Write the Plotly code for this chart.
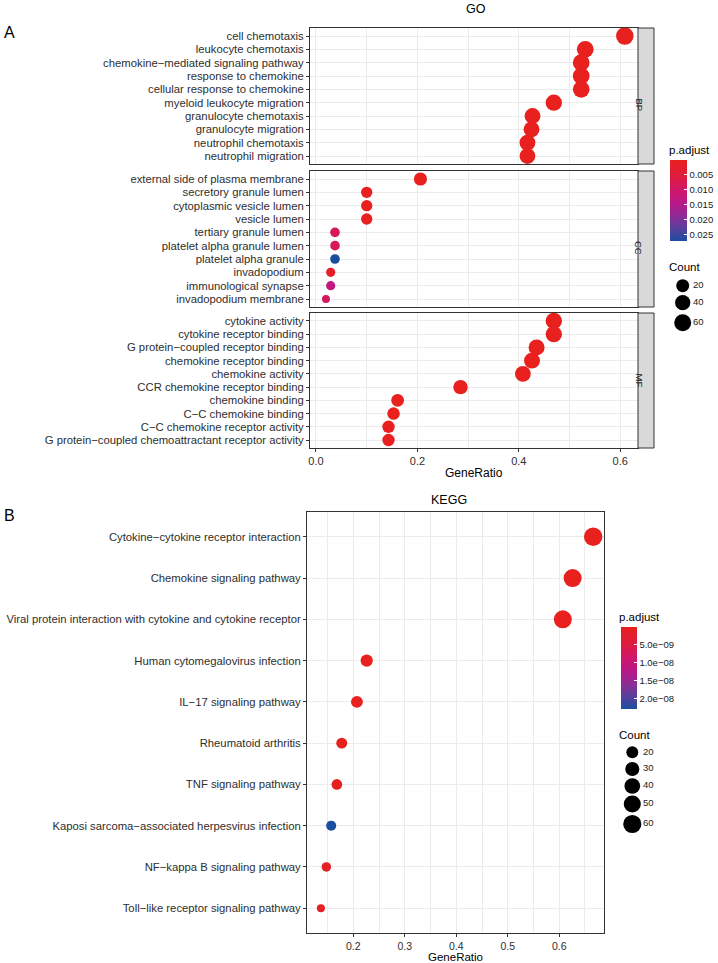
import numpy as np
import plotly.graph_objects as go

M = "\u2212"  # minus sign, as rendered by ggplot

# ---------------- GO data ----------------
bp_terms = ["cell chemotaxis", "leukocyte chemotaxis", f"chemokine{M}mediated signaling pathway",
            "response to chemokine", "cellular response to chemokine", "myeloid leukocyte migration",
            "granulocyte chemotaxis", "granulocyte migration", "neutrophil chemotaxis", "neutrophil migration"]
bp_ratio = [0.609, 0.531, 0.523, 0.523, 0.523, 0.469, 0.427, 0.425, 0.417, 0.417]
bp_count = [67, 58, 57, 57, 57, 52, 47, 47, 46, 46]
bp_padj = [1e-30, 1e-26, 1e-26, 1e-26, 1e-26, 1e-22, 1e-20, 1e-19, 1e-19, 1e-19]

cc_terms = ["external side of plasma membrane", "secretory granule lumen", "cytoplasmic vesicle lumen",
            "vesicle lumen", "tertiary granule lumen", "platelet alpha granule lumen",
            "platelet alpha granule", "invadopodium", "immunological synapse", "invadopodium membrane"]
cc_ratio = [0.206, 0.100, 0.100, 0.100, 0.0375, 0.0375, 0.0375, 0.029, 0.029, 0.0197]
cc_count = [21, 10, 10, 10, 4, 4, 4, 3, 3, 2]
cc_padj = [1e-8, 2e-4, 2e-4, 2e-4, 0.0080, 0.0080, 0.0271, 0.0021, 0.0130, 0.0088]

mf_terms = ["cytokine activity", "cytokine receptor binding", f"G protein{M}coupled receptor binding",
            "chemokine receptor binding", "chemokine activity", "CCR chemokine receptor binding",
            "chemokine binding", f"C{M}C chemokine binding", f"C{M}C chemokine receptor activity",
            f"G protein{M}coupled chemoattractant receptor activity"]
mf_ratio = [0.469, 0.469, 0.435, 0.426, 0.408, 0.285, 0.161, 0.153, 0.143, 0.143]
mf_count = [52, 52, 48, 47, 45, 32, 18, 17, 16, 16]
mf_padj = [1e-25, 1e-25, 1e-24, 1e-24, 1e-23, 1e-18, 1e-12, 1e-12, 1e-11, 1e-11]

go_facets = ["BP", "CC", "MF"]
go_cbar_ticks = [0.005, 0.010, 0.015, 0.020, 0.025]
go_cbar_labels = ["0.005", "0.010", "0.015", "0.020", "0.025"]
go_size_breaks = [20, 40, 60]

# ---------------- KEGG data ----------------
kegg_terms = [f"Cytokine{M}cytokine receptor interaction", "Chemokine signaling pathway",
              "Viral protein interaction with cytokine and cytokine receptor",
              "Human cytomegalovirus infection", f"IL{M}17 signaling pathway", "Rheumatoid arthritis",
              "TNF signaling pathway", f"Kaposi sarcoma{M}associated herpesvirus infection",
              f"NF{M}kappa B signaling pathway", f"Toll{M}like receptor signaling pathway"]
kegg_ratio = [0.666, 0.626, 0.607, 0.226, 0.207, 0.1775, 0.168, 0.157, 0.1476, 0.137]
kegg_count = [63, 59, 58, 21, 20, 17, 16, 15, 14, 13]
kegg_padj = [1e-40, 1e-33, 1e-35, 1e-12, 1e-11, 1e-10, 1e-10, 2.27e-8, 1e-9, 1e-9]

kegg_cbar_ticks = [5e-9, 1e-8, 1.5e-8, 2e-8]
kegg_cbar_labels = [f"5.0e{M}09", f"1.0e{M}08", f"1.5e{M}08", f"2.0e{M}08"]
kegg_size_breaks = [20, 30, 40, 50, 60]

# ---------------- styling ----------------
W, H = 718, 963
FONT = "Liberation Sans, Arial, sans-serif"
GRID = "#EBEBEB"
BORDER = "#333333"
TXT = "#2E2E2E"
TICK_FS = 11.3

# p.adjust gradient (low -> high), sampled from the reference colour bar
grad_low_to_high = [(0.00, "#E8201E"), (0.20, "#E01C3E"), (0.40, "#CD1670"), (0.55, "#B51A8A"),
                    (0.70, "#8C2C95"), (0.85, "#56409C"), (1.00, "#1C4EA0")]
# colour is driven by -p.adjust so that the smallest p.adjust sits at the top of the bar (as in ggplot)
cscale = sorted([[1 - t, c] for t, c in grad_low_to_high])


def xdom(a, b):
    return [a / W, b / W]


def ydom(top, bottom):
    return [1 - bottom / H, 1 - top / H]


def neg(v):
    return [-x for x in v]


def size_scale(counts, cmin, cmax, dmin, dmax):
    c = np.asarray(counts, dtype=float)
    return list(dmin + (dmax - dmin) * np.sqrt((c - cmin) / (cmax - cmin)))


go_all_count = bp_count + cc_count + mf_count
go_cmin, go_cmax = min(go_all_count), max(go_all_count)
go_size = lambda c: size_scale(c, go_cmin, go_cmax, 8.0, 17.5)
k_cmin, k_cmax = min(kegg_count), max(kegg_count)
k_size = lambda c: size_scale(c, k_cmin, k_cmax, 8.0, 18.5)

go_all_padj = bp_padj + cc_padj + mf_padj

fig = go.Figure()

# GO panels
go_sets = [(bp_terms, bp_ratio, bp_count, bp_padj), (cc_terms, cc_ratio, cc_count, cc_padj),
           (mf_terms, mf_ratio, mf_count, mf_padj)]
for i, (terms, ratio, count, padj) in enumerate(go_sets):
    sfx = "" if i == 0 else str(i + 1)
    fig.add_trace(go.Scatter(
        x=ratio, y=terms, mode="markers", xaxis="x" + sfx, yaxis="y" + sfx, showlegend=False,
        marker=dict(size=go_size(count), color=neg(padj), coloraxis="coloraxis", line=dict(width=0),
                    opacity=1),
    ))

# KEGG panel
fig.add_trace(go.Scatter(
    x=kegg_ratio, y=kegg_terms, mode="markers", xaxis="x4", yaxis="y4", showlegend=False,
    marker=dict(size=k_size(kegg_count), color=neg(kegg_padj), coloraxis="coloraxis2", line=dict(width=0),
                opacity=1),
))

# size legends drawn on small pixel-canvas axes (x5/y5 for GO, x6/y6 for KEGG)
go_canvas = (660, 718, 274, 336)    # x0, x1, y0, y1 in page pixels
k_canvas = (610, 718, 742, 836)
go_key_x, go_key_y, go_lab_x = 682.7, [285.7, 302.7, 322.7], 693
k_key_x, k_key_y, k_lab_x = 632.3, [752.3, 769.0, 786.0, 804.0, 824.0], 643
for (kx, ky, lx, breaks, sizef, ax) in [(go_key_x, go_key_y, go_lab_x, go_size_breaks, go_size, "5"),
                                         (k_key_x, k_key_y, k_lab_x, kegg_size_breaks, k_size, "6")]:
    fig.add_trace(go.Scatter(x=[kx] * len(breaks), y=ky, mode="markers", xaxis="x" + ax, yaxis="y" + ax,
                             showlegend=False, cliponaxis=False,
                             marker=dict(size=sizef(breaks), color="#000000", line=dict(width=0), opacity=1)))
    fig.add_trace(go.Scatter(x=[lx] * len(breaks), y=ky, mode="text", text=[str(v) for v in breaks],
                             textposition="middle right", cliponaxis=False,
                             textfont=dict(size=9.5, color="#1A1A1A", family=FONT),
                             xaxis="x" + ax, yaxis="y" + ax, showlegend=False))

# ---------------- axes ----------------
go_x = xdom(310, 638)
go_xrange = [-0.0118, 0.635]
go_panels_px = [(28, 164), (171, 307), (313, 448)]


def xaxis_common(domain, rng, anchor, show_labels, dtick, minor_dtick, fs=11):
    return dict(domain=domain, range=rng, anchor=anchor, showgrid=True, gridcolor=GRID, gridwidth=1.1,
                minor=dict(showgrid=True, gridcolor=GRID, gridwidth=0.7, dtick=minor_dtick),
                dtick=dtick, tick0=0, tickformat=".1f", zeroline=False, showline=True, linecolor=BORDER,
                linewidth=1, mirror=True, ticks="outside" if show_labels else "", ticklen=3,
                tickcolor=BORDER, showticklabels=show_labels,
                tickfont=dict(size=fs, color=TXT, family=FONT), fixedrange=True)


def yaxis_common(domain, terms, anchor):
    return dict(domain=domain, anchor=anchor, type="category", categoryorder="array",
                categoryarray=list(reversed(terms)), range=[-0.6, len(terms) - 0.4],
                tickmode="array", tickvals=list(terms), ticktext=list(terms),
                showgrid=True, gridcolor=GRID, gridwidth=1.1, zeroline=False, showline=True,
                linecolor=BORDER, linewidth=1, mirror=True, ticks="outside", ticklen=3, tickcolor=BORDER,
                tickfont=dict(size=TICK_FS, color=TXT, family=FONT), fixedrange=True)


layout = dict(
    width=W, height=H, margin=dict(l=0, r=0, t=0, b=0, autoexpand=False), paper_bgcolor="white",
    plot_bgcolor="rgba(0,0,0,0)", font=dict(family=FONT, color="black"), showlegend=False,
)
for i, (top, bot) in enumerate(go_panels_px):
    sfx = "" if i == 0 else str(i + 1)
    layout["xaxis" + sfx] = xaxis_common(go_x, go_xrange, "y" + sfx, i == 2, 0.2, 0.1)
    layout["yaxis" + sfx] = yaxis_common(ydom(top, bot), go_sets[i][0], "x" + sfx)

layout["xaxis4"] = xaxis_common(xdom(307, 604), [0.110, 0.687], "y4", True, 0.1, 0.05, fs=10.5)
layout["yaxis4"] = yaxis_common(ydom(512, 933), kegg_terms, "x4")
for ax, (x0, x1, y0, y1) in [("5", go_canvas), ("6", k_canvas)]:
    layout["xaxis" + ax] = dict(domain=xdom(x0, x1), range=[x0, x1], visible=False, anchor="y" + ax,
                                fixedrange=True)
    layout["yaxis" + ax] = dict(domain=ydom(y0, y1), range=[y1, y0], visible=False, anchor="x" + ax,
                                fixedrange=True)

cb_common = dict(xanchor="left", yanchor="top", lenmode="pixels", thicknessmode="pixels", outlinewidth=0,
                 xpad=0, ypad=0, ticks="inside", ticklen=3, tickcolor="white", tickwidth=1,
                 tickfont=dict(size=9.5, color="#1A1A1A", family=FONT), title=dict(text=""))
layout["coloraxis"] = dict(
    colorscale=cscale, cmin=-max(go_all_padj), cmax=-min(go_all_padj),
    colorbar=dict(cb_common, x=670 / W, y=1 - 160 / H, len=81, thickness=17,
                  tickvals=neg(go_cbar_ticks), ticktext=go_cbar_labels))
layout["coloraxis2"] = dict(
    colorscale=cscale, cmin=-max(kegg_padj), cmax=-min(kegg_padj),
    colorbar=dict(cb_common, x=620.7 / W, y=1 - 626.7 / H, len=82, thickness=15.5,
                  tickvals=neg(kegg_cbar_ticks), ticktext=kegg_cbar_labels))

# facet strips
shapes, annotations = [], []
for i, (top, bot) in enumerate(go_panels_px):
    shapes.append(dict(type="rect", xref="paper", yref="paper", x0=638 / W, x1=654 / W,
                       y0=1 - bot / H, y1=1 - top / H, fillcolor="#D9D9D9",
                       line=dict(color=BORDER, width=1), layer="above"))
    annotations.append(dict(text=go_facets[i], x=646.5 / W, y=1 - (top + bot) / 2 / H, xref="paper",
                            yref="paper", showarrow=False, textangle=90,
                            font=dict(size=9.5, color="#1A1A1A", family=FONT)))


def ann(text, x, y, size, xanchor="center", color="black"):
    annotations.append(dict(text=text, x=x / W, y=1 - y / H, xref="paper", yref="paper", showarrow=False,
                            xanchor=xanchor, yanchor="middle", borderpad=0,
                            font=dict(size=size, color=color, family=FONT)))


ann("A", 3, 32, 16, "left")
ann("B", 3, 515, 16, "left")
ann("GO", 476, 9, 12.5)
ann("KEGG", 449, 500, 12.5)
ann("GeneRatio", 474, 472.5, 12)
ann("GeneRatio", 455.5, 956.5, 11.5)
ann("p.adjust", 668, 150, 11.5, "left")
ann("Count", 668, 267, 11.5, "left")
ann("p.adjust", 618, 617, 11.5, "left")
ann("Count", 618, 735, 11.5, "left")

layout["shapes"] = shapes
layout["annotations"] = annotations
fig.update_layout(**layout)
fig.write_html("out.html", config={"displayModeBar": False},
               post_script="document.body.style.margin='0px';")
